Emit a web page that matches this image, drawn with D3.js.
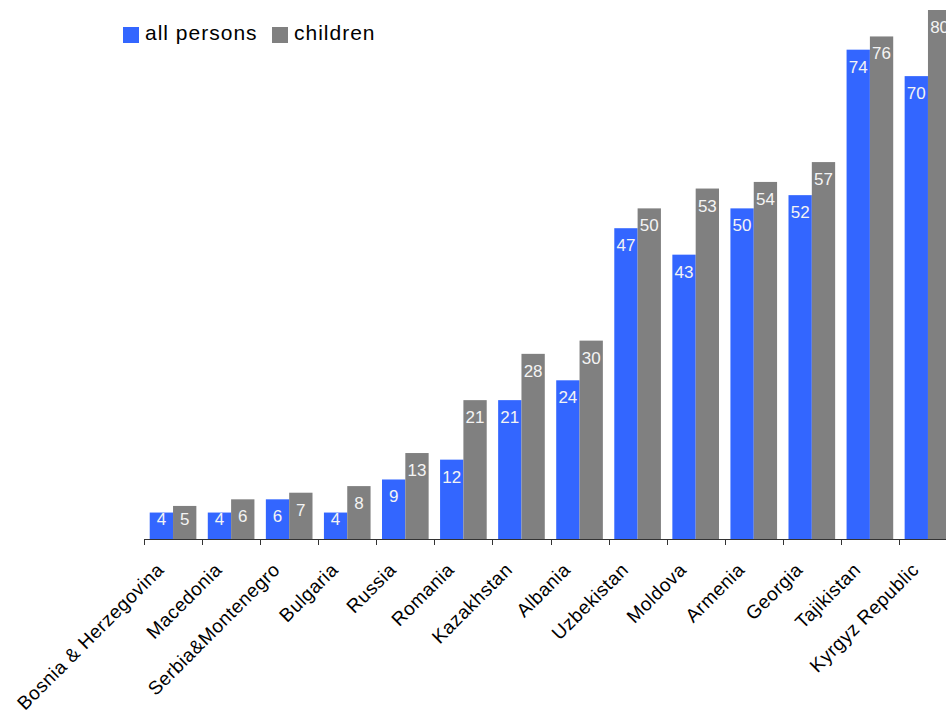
<!DOCTYPE html>
<html>
<head>
<meta charset="utf-8">
<script src="https://cdn.jsdelivr.net/npm/d3@7"></script>
<style>
  html, body { margin: 0; padding: 0; background: #fff; overflow: hidden; }
  svg { display: block; font-family: "Liberation Sans", Arial, sans-serif; }
</style>
</head>
<body>
<svg id="chart" width="946" height="711"></svg>
<script>
// Poverty rates by country: all persons vs. children (%)
const categories = ["Bosnia & Herzegovina", "Macedonia", "Serbia&Montenegro", "Bulgaria", "Russia",
  "Romania", "Kazakhstan", "Albania", "Uzbekistan", "Moldova", "Armenia", "Georgia", "Tajikistan", "Kyrgyz Republic"];
const seriesNames = ["all persons", "children"];
const allPersons = [4, 4, 6, 4, 9, 12, 21, 24, 47, 43, 50, 52, 74, 70];
const children = [5, 6, 7, 8, 13, 21, 28, 30, 50, 53, 54, 57, 76, 80];
const colors = ["#3366FF", "#808080"];

const svg = d3.select("#chart");
const baseY = 539;

const x0 = d3.scaleBand().domain(categories).range([144, 957]).padding(0);
const x1 = d3.scaleBand().domain(seriesNames).range([0, x0.bandwidth()])
  .paddingInner(0).paddingOuter(0.245);
const y = d3.scaleLinear().domain([0, 80]).range([baseY, 10]);

const rows = categories.map((c, i) => ({ cat: c, values: [allPersons[i], children[i]] }));

const groups = svg.append("g").selectAll("g")
  .data(rows).join("g")
  .attr("transform", d => `translate(${x0(d.cat)},0)`);

groups.selectAll("rect")
  .data(d => d.values.map((v, k) => ({ name: seriesNames[k], v, k })))
  .join("rect")
  .attr("x", d => x1(d.name))
  .attr("y", d => y(d.v))
  .attr("width", x1.bandwidth())
  .attr("height", d => baseY - y(d.v))
  .attr("fill", d => colors[d.k]);

// value labels inside the bars
groups.selectAll("text")
  .data(d => d.values.map((v, k) => ({ name: seriesNames[k], v, k })))
  .join("text")
  .attr("x", d => x1(d.name) + x1.bandwidth() / 2)
  .attr("y", d => Math.min(y(d.v) + 23, baseY - 14))
  .attr("text-anchor", "middle")
  .attr("font-size", 17)
  .attr("fill", "#f4f4f4")
  .text(d => d.v);

// category axis: baseline and ticks at band boundaries
const axis = svg.append("g");
axis.append("line")
  .attr("x1", x0.range()[0]).attr("x2", x0.range()[1])
  .attr("y1", baseY + 0.5).attr("y2", baseY + 0.5)
  .attr("stroke", "#333").attr("stroke-width", 1.2);
const tickPos = categories.map(c => x0(c)).concat([x0.range()[1]]);
axis.selectAll("line.tick")
  .data(tickPos).join("line")
  .attr("class", "tick")
  .attr("x1", d => Math.round(d) + 0.5).attr("x2", d => Math.round(d) + 0.5)
  .attr("y1", baseY).attr("y2", baseY + 6)
  .attr("stroke", "#333");

axis.selectAll("text")
  .data(categories).join("text")
  .attr("transform", d => `translate(${x0(d) + x0.bandwidth() / 2 - 8},${baseY + 32}) rotate(-45)`)
  .attr("text-anchor", "end")
  .attr("font-size", 19)
  .attr("letter-spacing", 0.5)
  .attr("fill", "#000")
  .text(d => d);

// legend
const legend = svg.append("g");
const legendX = [123, 272];
seriesNames.forEach((n, k) => {
  legend.append("rect")
    .attr("x", legendX[k]).attr("y", 27)
    .attr("width", 16).attr("height", 16)
    .attr("fill", colors[k]);
  legend.append("text")
    .attr("x", legendX[k] + 22).attr("y", 40)
    .attr("font-size", 21)
    .attr("letter-spacing", 1)
    .attr("fill", "#000")
    .text(n);
});
</script>
</body>
</html>
